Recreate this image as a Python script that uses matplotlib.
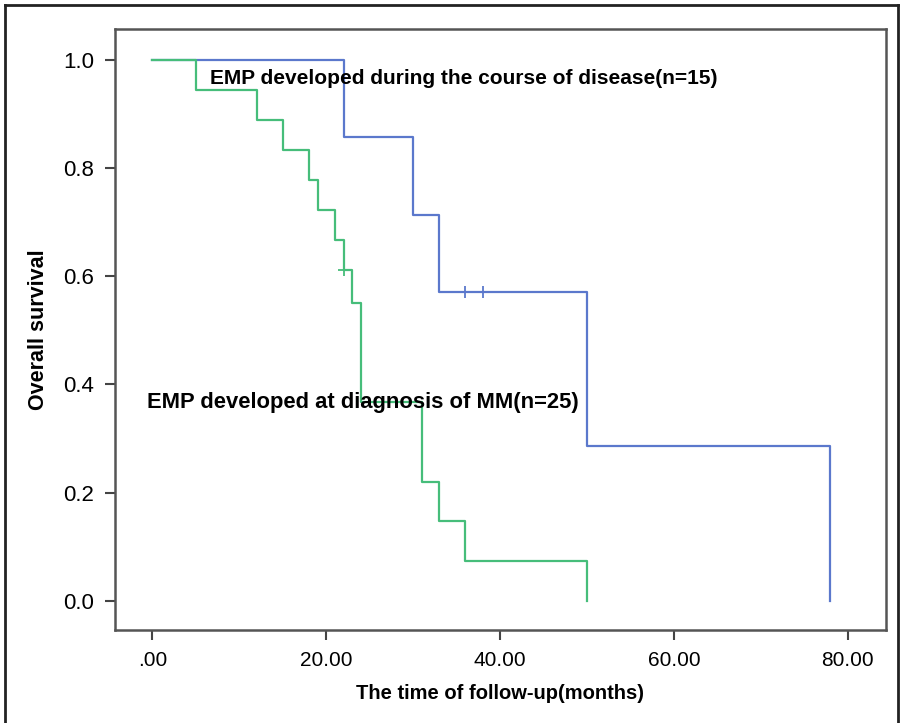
import matplotlib
matplotlib.use("Agg")
import matplotlib.pyplot as plt
from matplotlib.lines import Line2D

plt.rcParams['font.family'] = ['Liberation Sans', 'DejaVu Sans']

# Kaplan-Meier steps
t_diag = [0, 5, 12, 15, 18, 19, 21, 22, 23, 24, 31, 33, 36, 50]
s_diag = [1.0, 0.944, 0.889, 0.833, 0.778, 0.722, 0.667, 0.611, 0.55, 0.367, 0.22, 0.147, 0.073, 0.0]
cens_diag_t = [22]
cens_diag_s = [0.611]

t_course = [0, 22, 30, 33, 50, 78]
s_course = [1.0, 0.857, 0.714, 0.571, 0.286, 0.0]
cens_course_t = [36, 38]
cens_course_s = [0.571, 0.571]

xticks = [0, 20, 40, 60, 80]
xticklabels = [".00", "20.00", "40.00", "60.00", "80.00"]
yticks = [0.0, 0.2, 0.4, 0.6, 0.8, 1.0]
yticklabels = ["0.0", "0.2", "0.4", "0.6", "0.8", "1.0"]

green = "#46bd7a"
blue = "#5b78cc"

fig = plt.figure(figsize=(9.04, 7.23), dpi=100)
ax = fig.add_axes([115/904, 1 - 630/723, (886-115)/904, (630-29)/723])

ax.step(t_course, s_course, where="post", color=blue, lw=1.6)
ax.plot(cens_course_t, cens_course_s, ls="none", marker="|", ms=8, mew=1.3, color=blue)
ax.step(t_diag, s_diag, where="post", color=green, lw=1.6)
ax.plot(cens_diag_t, cens_diag_s, ls="none", marker="+", ms=8, mew=1.3, color=green)

ax.set_xlim(-4.3, 84.4)
ax.set_ylim(-0.054, 1.057)
ax.set_xticks(xticks)
ax.set_xticklabels(xticklabels, fontsize=15)
ax.set_yticks(yticks)
ax.set_yticklabels(yticklabels, fontsize=16)
ax.tick_params(direction="out", length=7, width=1.5, color="#444444", pad=8)

for sp in ax.spines.values():
    sp.set_color("#555555")
    sp.set_linewidth(1.8)

ax.set_xlabel("The time of follow-up(months)", fontsize=14.5, fontweight="bold", labelpad=10)
ax.set_ylabel("Overall survival", fontsize=15.5, fontweight="bold", labelpad=10)

ax.text(6.6, 0.966, "EMP developed during the course of disease(n=15)",
        fontsize=15, fontweight="bold", va="center", ha="left")
ax.text(-0.6, 0.366, "EMP developed at diagnosis of MM(n=25)",
        fontsize=15.8, fontweight="bold", va="center", ha="left")

# outer frame around the figure
for xs, ys in [([5/904, 5/904], [0, 1 - 5/723]),
               ([5/904, 898/904], [1 - 5/723, 1 - 5/723]),
               ([898/904, 898/904], [1 - 5/723, 0])]:
    fig.add_artist(Line2D(xs, ys, transform=fig.transFigure, color="#222222", lw=2))

fig.savefig("out.png", dpi=100)
